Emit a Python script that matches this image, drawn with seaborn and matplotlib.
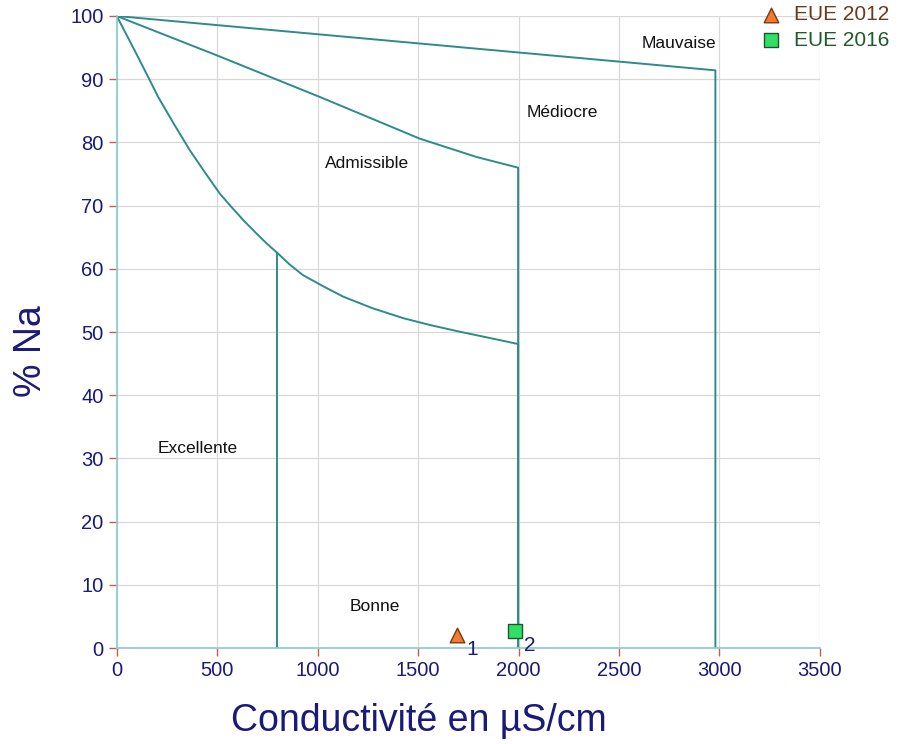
import matplotlib
matplotlib.use("Agg")
import matplotlib.pyplot as plt
import seaborn as sns
import pandas as pd

sns.set_theme(style="whitegrid")
plt.rcParams['font.family'] = ['Liberation Sans', 'DejaVu Sans']

# Boundary curves (conductivity µS/cm, %Na)
mauvaise_x = [0, 2980, 2980]
mauvaise_y = [100, 91.4, 0]
mediocre_x = [0, 496, 1010, 1508, 1790, 1998, 1998]
mediocre_y = [100, 93.8, 87.2, 80.6, 77.7, 76.0, 0]
admissible_x = [0, 90, 181, 206, 285, 363, 440, 513, 562, 630, 695, 750, 800,
                860, 927, 1030, 1127, 1270, 1425, 1560, 1707, 1850, 1998, 1998]
admissible_y = [100, 94.5, 88.8, 87.2, 82.9, 78.8, 75.2, 71.9, 70.1, 67.7, 65.6, 63.9, 62.5,
                60.7, 59.0, 57.2, 55.6, 53.8, 52.2, 51.1, 50.05, 49.1, 48.1, 0]
bonne_x = [800, 800]
bonne_y = [62.5, 0]

# Samples
eue2012_x = [1693]
eue2012_y = [2.0]
eue2016_x = [1983]
eue2016_y = [2.7]
sample_ids = ["1", "2"]

zone_labels = ["Mauvaise", "Médiocre", "Admissible", "Excellente", "Bonne"]
zone_x = [2800, 2220, 1245, 403, 1285]
zone_y = [95.7, 84.7, 76.6, 31.6, 6.6]

xticks = [0, 500, 1000, 1500, 2000, 2500, 3000, 3500]
yticks = [0, 10, 20, 30, 40, 50, 60, 70, 80, 90, 100]

navy = "#1a1a7a"
teal = "#2e8b8b"

fig = plt.figure(figsize=(8.98, 7.44), dpi=100)
ax = fig.add_axes([0.130, 0.129, 0.783, 0.8495])
ax.set_facecolor("white")

for xs, ys in [(mauvaise_x, mauvaise_y), (mediocre_x, mediocre_y),
               (admissible_x, admissible_y), (bonne_x, bonne_y)]:
    df = pd.DataFrame({"x": xs, "y": ys})
    sns.lineplot(data=df, x="x", y="y", sort=False, estimator=None,
                 color=teal, lw=1.4, ax=ax)

d12 = pd.DataFrame({"x": eue2012_x, "y": eue2012_y})
d16 = pd.DataFrame({"x": eue2016_x, "y": eue2016_y})
sns.scatterplot(data=d12, x="x", y="y", marker="^", s=110, color="#f07a30",
                edgecolor="#7a3a10", linewidth=1.0, ax=ax, zorder=5, label="EUE 2012")
sns.scatterplot(data=d16, x="x", y="y", marker="s", s=90, color="#33dd66",
                edgecolor="#1a5a2a", linewidth=1.0, ax=ax, zorder=5, label="EUE 2016")

for sx, sy, lab in zip(eue2012_x + eue2016_x, eue2012_y + eue2016_y, sample_ids):
    ax.text(sx + 45, sy - 2.3, lab, color=navy, fontsize=15, ha="left", va="center")

for lab, zx, zy in zip(zone_labels, zone_x, zone_y):
    ax.text(zx, zy, lab, fontsize=12.5, color="#111111", ha="center", va="center")

ax.set_xlim(0, 3500)
ax.set_ylim(0, 100)
ax.set_xticks(xticks)
ax.set_yticks(yticks)
ax.tick_params(axis="both", labelsize=14.5, labelcolor=navy, color="#c06050",
               length=6, width=1, direction="out", bottom=True, left=True)
ax.grid(True, color="#d8d8d8", lw=0.9)
for s in ["top", "right"]:
    ax.spines[s].set_visible(False)
for s in ["left", "bottom"]:
    ax.spines[s].set_color("#88cccc")
    ax.spines[s].set_linewidth(1.2)

ax.set_xlabel("Conductivité en µS/cm", fontsize=27, color=navy, labelpad=20)
ax.xaxis.set_label_coords(0.43, -0.087)
ax.set_ylabel("% Na", fontsize=27, color=navy)
ax.yaxis.set_label_coords(-0.096, 0.47)

leg = ax.legend(loc="upper left", bbox_to_anchor=(0.898, 1.03), frameon=False,
                fontsize=15, handletextpad=0.4, borderaxespad=0, labelspacing=0.3,
                handlelength=1.4, markerscale=1.0)
leg.get_texts()[0].set_color("#6b3a1a")
leg.get_texts()[1].set_color("#1f5a2a")
leg.set_clip_on(False)

fig.savefig("out.png", dpi=100, facecolor="white")
